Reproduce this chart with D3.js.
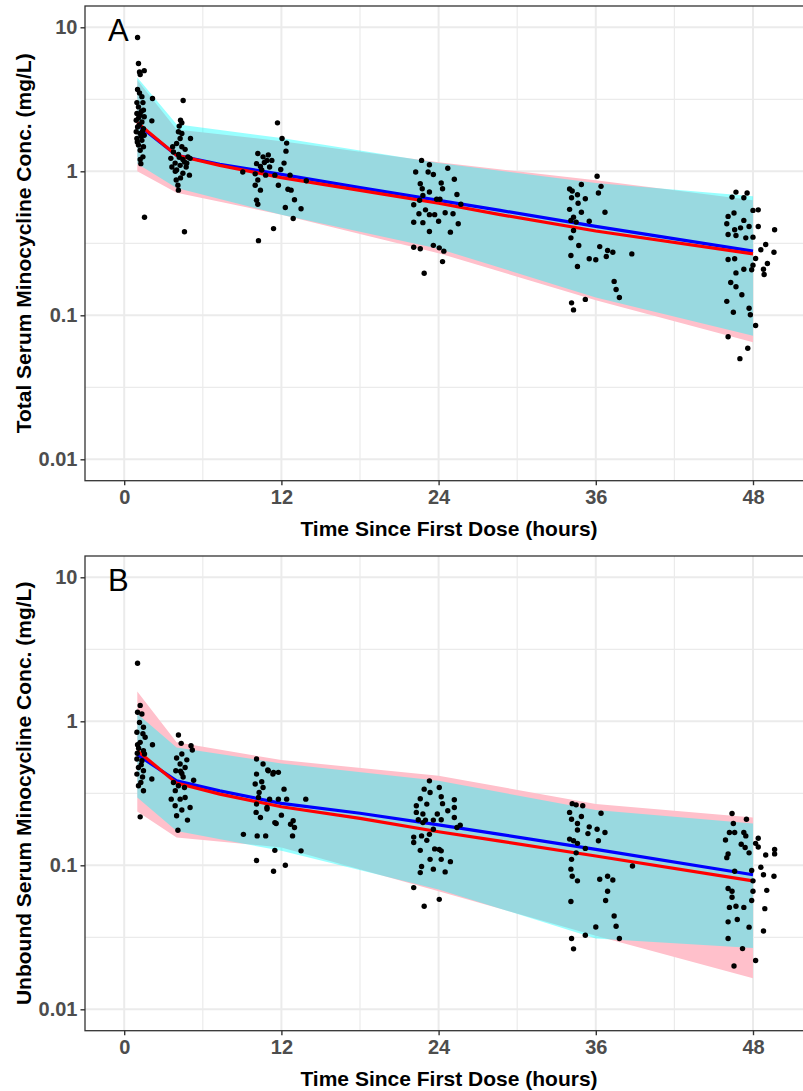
<!DOCTYPE html>
<html>
<head>
<meta charset="utf-8">
<script src="https://cdn.jsdelivr.net/npm/d3@7"></script>
<style>
  body { margin: 0; background: #fff; }
  svg { display: block; }
</style>
</head>
<body>
<svg id="chart" width="803" height="1091"></svg>
<script>
// ---- axis breaks ----
const timeTicks = [0, 12, 24, 36, 48];
const timeMinor = [6, 18, 30, 42];
const concTicks = [0.01, 0.1, 1, 10];
const concTickLabels = ["0.01", "0.1", "1", "10"];
const concMinor = [0.0316, 0.316, 3.16];

// ---- prediction intervals (mg/L) ----
const bandTimes = [1, 4, 12, 24, 36, 48];
const totalCyanLo = [1.13, 0.765, 0.50, 0.29, 0.133, 0.072];
const totalCyanHi = [4.49, 2.12, 1.70, 1.14, 0.83, 0.67];
const totalPinkLo = [1.0, 0.71, 0.50, 0.27, 0.127, 0.065];
const totalPinkHi = [4.30, 1.95, 1.62, 1.155, 0.866, 0.63];

const unboundCyanLo = [0.296, 0.173, 0.126, 0.068, 0.031, 0.0267];
const unboundCyanHi = [1.13, 0.659, 0.51, 0.386, 0.242, 0.195];
const unboundPinkLo = [0.236, 0.156, 0.133, 0.066, 0.0324, 0.0164];
const unboundPinkHi = [1.61, 0.714, 0.538, 0.419, 0.266, 0.215];

// ---- median predictions (mg/L) ----
const lineTimes = [1, 4, 7.3, 12, 18, 24, 28.7, 36, 48];
const totalBlue = [2.12, 1.29, 1.12, 0.953, 0.77, 0.628, 0.535, 0.414, 0.279];
const totalRed = [2.17, 1.29, 1.10, 0.904, 0.737, 0.60, 0.50, 0.385, 0.267];
const unboundBlue = [0.586, 0.386, 0.329, 0.269, 0.23, 0.191, 0.164, 0.129, 0.086];
const unboundRed = [0.625, 0.372, 0.312, 0.255, 0.212, 0.171, 0.147, 0.116, 0.078];

// ---- observed concentrations [time (h), conc (mg/L)] ----
const obsTotal = [
  [1.02,8.5],[1.09,5.6],[1.17,4.9],[1.53,5.0],[1.22,4.7],[2.16,3.2],[2.11,2.24],[1.02,3.7],
  [1.17,3.5],[1.35,3.3],[0.97,3.0],[1.43,3.0],[1.09,2.8],[1.47,2.66],[0.97,2.52],[1.22,2.45],
  [1.53,2.39],[0.92,2.26],[1.35,2.2],[1.02,2.03],[1.47,1.98],[0.92,1.88],[1.22,1.83],[1.53,1.78],
  [0.97,1.69],[1.35,1.64],[1.09,1.52],[1.47,1.48],[1.22,1.40],[1.43,1.26],[1.22,1.21],[1.27,1.13],
  [1.55,0.48],[1.3,2.6],[1.1,2.35],[1.4,1.9],[1.0,1.6],[1.3,1.75],[1.15,2.1],
  [4.5,3.1],[4.3,2.26],[4.4,2.17],[4.2,2.06],[4.14,1.88],[4.4,1.83],[4.27,1.69],[5.06,1.69],
  [4.0,1.56],[4.4,1.48],[4.65,1.42],[3.76,1.36],[4.14,1.31],[4.86,1.26],[3.56,1.23],[4.48,1.21],
  [5.03,1.23],[3.89,1.14],[4.27,1.10],[3.64,1.07],[4.73,1.07],[4.0,1.02],[4.48,0.97],[4.98,0.94],
  [3.97,0.87],[4.1,0.80],[4.14,0.74],[4.6,0.38],[3.7,1.48],[4.78,1.14],[4.2,1.25],[4.6,1.16],
  [3.9,1.0],[4.3,0.9],
  [10.2,1.33],[10.6,1.26],[10.9,1.19],[10.1,1.13],[11.1,1.07],[10.5,1.02],[10.0,0.96],[10.8,0.94],
  [10.2,0.87],[10.0,0.80],[10.4,0.74],[10.1,0.63],[10.2,0.59],[10.25,0.33],[11.4,0.40],[11.7,2.17],
  [12.05,1.69],[12.4,1.57],[12.35,1.38],[12.2,1.14],[11.95,1.03],[12.66,0.94],[11.77,0.80],[12.5,0.75],
  [12.74,0.74],[13.0,0.635],[12.3,0.56],[13.5,0.55],[12.9,0.47],[11.27,1.19],[11.5,0.94],[13.9,0.86],
  [9.05,0.99],[10.7,1.15],[11.0,1.3],[10.4,1.08],
  [22.7,1.19],[23.3,1.11],[24.7,1.05],[22.25,0.99],[23.2,0.99],[23.6,0.95],[25.2,0.88],[22.6,0.82],
  [24.2,0.83],[22.75,0.757],[23.3,0.718],[24.3,0.757],[25.4,0.69],[22.8,0.68],[23.85,0.64],[24.1,0.64],
  [22.1,0.586],[25.7,0.59],[22.5,0.507],[23.3,0.50],[23.7,0.50],[24.5,0.515],[25.1,0.507],[22.1,0.443],
  [22.8,0.44],[24.0,0.45],[25.5,0.432],[23.3,0.382],[24.9,0.378],[22.1,0.297],[22.6,0.29],[23.6,0.306],
  [24.05,0.294],[24.4,0.279],[24.3,0.236],[22.9,0.196],[22.55,0.63],[23.0,0.54],
  [36.1,0.923],[34.9,0.81],[36.4,0.786],[34.0,0.753],[34.2,0.73],[34.6,0.688],[35.2,0.645],[36.2,0.706],
  [34.15,0.655],[34.65,0.60],[34.0,0.544],[34.9,0.52],[36.7,0.52],[34.3,0.48],[34.1,0.456],[35.5,0.45],
  [34.5,0.444],[34.3,0.388],[34.1,0.345],[34.7,0.305],[36.3,0.30],[36.9,0.282],[37.3,0.274],[38.75,0.267],
  [34.1,0.26],[36.8,0.256],[35.5,0.247],[36.0,0.243],[34.6,0.218],[37.4,0.172],[37.55,0.151],[37.8,0.133],
  [34.15,0.122],[35.2,0.129],[34.3,0.109],
  [46.4,0.662],[46.7,0.717],[47.3,0.655],[47.55,0.706],[48.0,0.535],[48.4,0.54],[46.1,0.486],[46.55,0.513],
  [46.0,0.432],[47.3,0.456],[46.6,0.393],[47.05,0.405],[47.7,0.414],[48.4,0.414],[49.65,0.393],[46.1,0.364],
  [46.7,0.358],[47.45,0.345],[48.0,0.349],[48.97,0.31],[49.6,0.274],[48.6,0.285],[46.1,0.244],[46.6,0.247],
  [48.2,0.248],[49.1,0.229],[48.0,0.223],[47.3,0.209],[47.9,0.207],[48.8,0.209],[48.85,0.192],[46.7,0.197],
  [46.3,0.169],[46.7,0.158],[47.15,0.139],[46.0,0.125],[46.5,0.105],[47.7,0.112],[47.8,0.101],[48.2,0.085],
  [46.1,0.071],[47.6,0.059],[47.0,0.050]
];

const obsUnbound = [
  [1.02,2.53],[1.22,1.29],[1.02,1.155],[1.35,1.125],[1.17,0.98],[1.47,0.91],[0.97,0.84],[1.43,0.82],
  [1.22,0.714],[2.16,0.688],[1.02,0.688],[1.47,0.625],[0.97,0.547],[1.35,0.533],[1.09,0.478],[1.47,0.454],
  [0.97,0.43],[2.11,0.397],[1.27,0.376],[1.09,0.357],[1.47,0.329],[1.22,0.217],[1.6,0.774],[1.55,0.593],
  [1.1,0.65],[1.3,0.5],[1.0,0.6],[1.4,0.41],
  [4.14,0.804],[4.35,0.703],[5.1,0.677],[5.2,0.632],[4.4,0.593],[4.0,0.556],[4.78,0.54],[4.27,0.505],
  [4.65,0.478],[3.94,0.454],[4.4,0.434],[5.3,0.39],[3.76,0.376],[4.14,0.357],[4.6,0.347],[3.59,0.288],
  [4.27,0.288],[4.65,0.296],[3.89,0.259],[5.03,0.252],[4.4,0.242],[4.0,0.221],[4.83,0.206],[4.1,0.175],
  [4.3,0.45],[4.5,0.41],[3.9,0.33],
  [10.1,0.547],[10.6,0.505],[10.96,0.459],[10.1,0.43],[11.4,0.442],[10.0,0.367],[10.6,0.347],[10.25,0.296],
  [11.77,0.288],[10.1,0.266],[10.9,0.252],[10.07,0.233],[10.4,0.215],[11.5,0.198],[9.1,0.164],[10.15,0.16],
  [10.8,0.16],[11.0,0.454],[11.35,0.43],[11.77,0.442],[12.2,0.338],[12.4,0.288],[13.86,0.288],[11.1,0.288],
  [10.9,0.246],[12.0,0.223],[12.9,0.204],[12.7,0.193],[11.6,0.195],[13.0,0.183],[12.85,0.16],[11.5,0.127],
  [13.5,0.126],[10.1,0.108],[12.3,0.1],[11.4,0.091],[10.3,0.32],[10.5,0.38],
  [23.3,0.386],[22.9,0.338],[24.05,0.347],[23.35,0.32],[24.2,0.299],[25.2,0.285],[22.6,0.29],[24.3,0.268],
  [23.1,0.266],[22.3,0.259],[24.7,0.239],[25.2,0.252],[22.3,0.233],[22.8,0.227],[23.9,0.227],[25.2,0.215],
  [22.45,0.207],[23.0,0.206],[23.6,0.206],[24.2,0.207],[22.8,0.198],[25.65,0.19],[25.4,0.183],[23.6,0.178],
  [22.1,0.157],[22.7,0.16],[23.3,0.164],[22.1,0.144],[23.1,0.149],[22.6,0.127],[23.7,0.13],[24.05,0.129],
  [24.2,0.126],[23.35,0.11],[24.2,0.11],[24.9,0.106],[22.7,0.098],[23.6,0.094],[22.6,0.089],[24.5,0.09],
  [22.1,0.07],[24.05,0.058],[22.9,0.052],
  [34.2,0.268],[34.5,0.263],[35.0,0.259],[34.0,0.233],[36.4,0.23],[34.9,0.218],[34.15,0.209],[34.6,0.195],
  [35.5,0.185],[36.1,0.178],[36.7,0.169],[34.6,0.176],[35.4,0.166],[34.0,0.152],[34.3,0.148],[36.2,0.148],
  [34.6,0.142],[35.2,0.131],[34.5,0.122],[34.15,0.11],[38.8,0.099],[34.1,0.094],[34.2,0.084],[34.6,0.078],
  [36.3,0.08],[36.9,0.084],[37.3,0.079],[36.9,0.066],[36.75,0.057],[34.1,0.056],[37.4,0.0445],[37.55,0.0377],
  [36.0,0.0373],[35.2,0.0327],[37.8,0.031],[34.15,0.031],[34.3,0.0263],
  [46.4,0.229],[47.5,0.209],[46.5,0.195],[46.2,0.169],[46.6,0.169],[47.3,0.169],[47.45,0.16],[45.9,0.15],
  [47.1,0.14],[47.4,0.133],[48.2,0.142],[48.4,0.154],[48.4,0.134],[49.65,0.129],[49.65,0.12],[46.1,0.12],
  [46.0,0.113],[47.7,0.122],[48.97,0.118],[48.6,0.097],[46.6,0.091],[47.9,0.092],[48.8,0.086],[49.6,0.084],
  [48.0,0.078],[46.1,0.069],[46.4,0.066],[48.0,0.066],[49.05,0.067],[46.4,0.06],[47.9,0.057],[46.2,0.051],
  [46.7,0.052],[47.3,0.051],[48.9,0.05],[46.8,0.042],[46.1,0.0405],[47.7,0.0372],[48.8,0.035],[46.1,0.031],
  [47.2,0.0264],[48.2,0.0218],[46.55,0.02]
];

// ---- layout ----
const svg = d3.select("#chart");
svg.append("rect").attr("width", 803).attr("height", 1091).attr("fill", "#fff");

const panelLeft = 85, panelRight = 812, panelHeight = 474.7;
const x = d3.scaleLinear().domain([0, 48]).range([124.2, 753]);
const FONT = "'Liberation Sans', Arial, sans-serif";

const panels = [
  { top: 6, label: "A", title: "Total Serum Minocycline Conc. (mg/L)",
    cyanLo: totalCyanLo, cyanHi: totalCyanHi, pinkLo: totalPinkLo, pinkHi: totalPinkHi,
    blue: totalBlue, red: totalRed, obs: obsTotal },
  { top: 556, label: "B", title: "Unbound Serum Minocycline Conc. (mg/L)",
    cyanLo: unboundCyanLo, cyanHi: unboundCyanHi, pinkLo: unboundPinkLo, pinkHi: unboundPinkHi,
    blue: unboundBlue, red: unboundRed, obs: obsUnbound }
];

panels.forEach((p, i) => {
  const top = p.top, bottom = top + panelHeight;
  const y = d3.scaleLog().domain([0.01, 10]).range([top + 453.3, top + 21.3]);
  const g = svg.append("g");

  const clipId = "clip" + i;
  svg.append("clipPath").attr("id", clipId)
    .append("rect").attr("x", panelLeft).attr("y", top)
    .attr("width", panelRight - panelLeft).attr("height", panelHeight);
  const body = g.append("g").attr("clip-path", `url(#${clipId})`);

  // grid
  body.selectAll(".vminor").data(timeMinor).join("line")
    .attr("x1", d => x(d)).attr("x2", d => x(d)).attr("y1", top).attr("y2", bottom)
    .attr("stroke", "#EBEBEB").attr("stroke-width", 1.2);
  body.selectAll(".hminor").data(concMinor).join("line")
    .attr("y1", d => y(d)).attr("y2", d => y(d)).attr("x1", panelLeft).attr("x2", panelRight)
    .attr("stroke", "#EBEBEB").attr("stroke-width", 1.2);
  body.selectAll(".vmajor").data(timeTicks).join("line")
    .attr("x1", d => x(d)).attr("x2", d => x(d)).attr("y1", top).attr("y2", bottom)
    .attr("stroke", "#EBEBEB").attr("stroke-width", 2);
  body.selectAll(".hmajor").data(concTicks).join("line")
    .attr("y1", d => y(d)).attr("y2", d => y(d)).attr("x1", panelLeft).attr("x2", panelRight)
    .attr("stroke", "#EBEBEB").attr("stroke-width", 2);

  // prediction bands
  const band = (lo, hi) => bandTimes.map((t, k) => ({ t, lo: lo[k], hi: hi[k] }));
  const area = d3.area().x(d => x(d.t)).y0(d => y(d.lo)).y1(d => y(d.hi));
  body.append("path").datum(band(p.pinkLo, p.pinkHi)).attr("d", area).attr("fill", "#FFC0CB");
  body.append("path").datum(band(p.cyanLo, p.cyanHi)).attr("d", area)
    .attr("fill", "#00FFFF").attr("fill-opacity", 0.4);

  // median lines
  const line = d3.line().x(d => x(d.t)).y(d => y(d.v));
  const series = vals => lineTimes.map((t, k) => ({ t, v: vals[k] }));
  body.append("path").datum(series(p.blue)).attr("d", line)
    .attr("fill", "none").attr("stroke", "#0000FF").attr("stroke-width", 3.2);
  body.append("path").datum(series(p.red)).attr("d", line)
    .attr("fill", "none").attr("stroke", "#FF0000").attr("stroke-width", 3.2);

  // observations
  body.selectAll("circle").data(p.obs).join("circle")
    .attr("cx", d => x(d[0])).attr("cy", d => y(d[1])).attr("r", 2.7).attr("fill", "#000");

  // panel border
  g.append("rect").attr("x", panelLeft).attr("y", top)
    .attr("width", panelRight - panelLeft).attr("height", panelHeight)
    .attr("fill", "none").attr("stroke", "#333333").attr("stroke-width", 1.3);

  // axes
  const yAxis = d3.axisLeft(y).tickValues(concTicks)
    .tickFormat((d, k) => concTickLabels[k]).tickSize(4.5).tickPadding(3);
  const ya = g.append("g").attr("transform", `translate(${panelLeft},0)`).call(yAxis);
  const xAxis = d3.axisBottom(x).tickValues(timeTicks).tickSize(4.5).tickPadding(5);
  const xa = g.append("g").attr("transform", `translate(0,${bottom})`).call(xAxis);
  [ya, xa].forEach(a => {
    a.select(".domain").remove();
    a.selectAll(".tick line").attr("stroke", "#333333").attr("stroke-width", 1.4);
    a.selectAll(".tick text").attr("fill", "#4D4D4D")
      .style("font-family", FONT).style("font-size", "20px").style("font-weight", "bold");
  });

  // titles
  g.append("text").attr("x", 449).attr("y", bottom + 55)
    .attr("text-anchor", "middle").attr("fill", "#000")
    .style("font-family", FONT).style("font-size", "21px").style("font-weight", "bold")
    .text("Time Since First Dose (hours)");
  g.append("text").attr("transform", `translate(31,${(top + bottom) / 2}) rotate(-90)`)
    .attr("text-anchor", "middle").attr("fill", "#000")
    .style("font-family", FONT).style("font-size", "21px").style("font-weight", "bold")
    .text(p.title);

  // panel tag
  g.append("text").attr("x", 108).attr("y", top + 35)
    .attr("fill", "#000").style("font-family", FONT).style("font-size", "31px")
    .text(p.label);
});
</script>
</body>
</html>
